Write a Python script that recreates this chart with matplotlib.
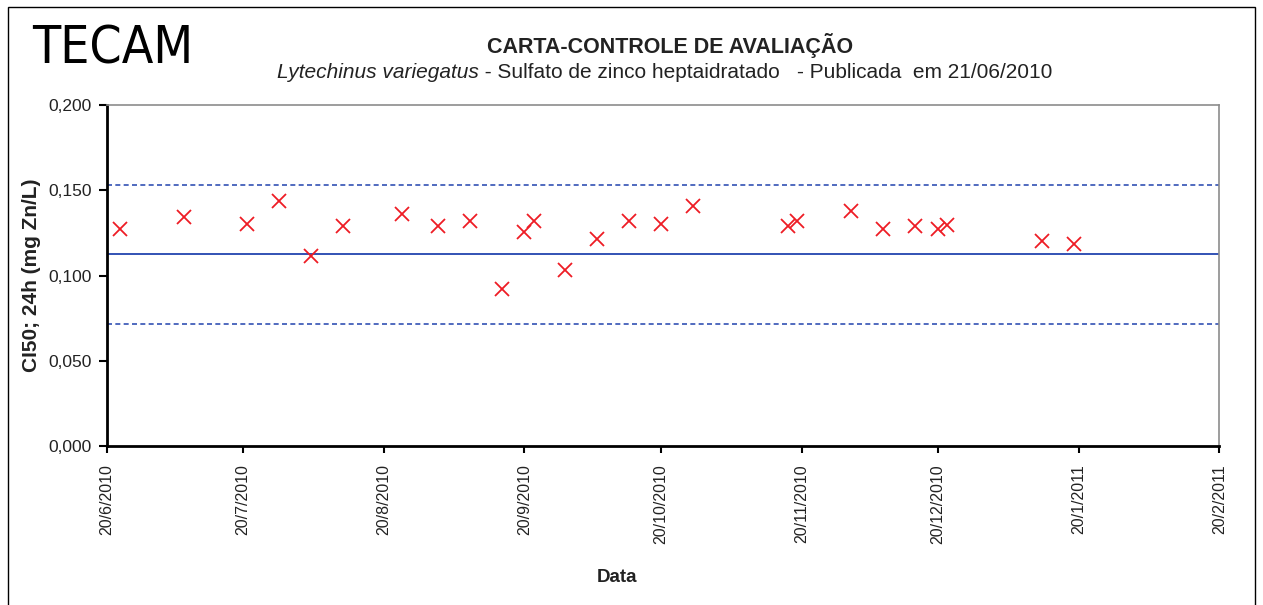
import numpy as np
import matplotlib.pyplot as plt
import matplotlib.dates as mdates
import pandas as pd
from matplotlib.offsetbox import TextArea, HPacker, AnnotationBbox
from matplotlib.ticker import FuncFormatter, FixedLocator

plt.rcParams['font.family'] = ['Liberation Sans', 'DejaVu Sans']

# ensaios (data, CI50 em mg Zn/L)
datas = ['2010-06-23', '2010-07-07', '2010-07-21', '2010-07-28', '2010-08-04',
         '2010-08-11', '2010-08-24', '2010-09-01', '2010-09-08', '2010-09-15',
         '2010-09-20', '2010-09-22', '2010-09-29', '2010-10-06', '2010-10-13',
         '2010-10-20', '2010-10-27', '2010-11-17', '2010-11-19', '2010-12-01',
         '2010-12-08', '2010-12-15', '2010-12-20', '2010-12-22', '2011-01-12',
         '2011-01-19']
ci50 = [0.1273, 0.1341, 0.1302, 0.1435, 0.1114, 0.1292, 0.1359, 0.1292, 0.1321,
        0.0919, 0.1255, 0.1321, 0.1030, 0.1216, 0.1321, 0.1302, 0.1406, 0.1292,
        0.1321, 0.1378, 0.1270, 0.1290, 0.1270, 0.1297, 0.1204, 0.1187]

media = 0.1125
lim_sup = 0.1532
lim_inf = 0.0716

tick_datas = ['2010-06-20', '2010-07-20', '2010-08-20', '2010-09-20', '2010-10-20',
              '2010-11-20', '2010-12-20', '2011-01-20', '2011-02-20']

x = mdates.date2num(pd.to_datetime(datas))
xt = mdates.date2num(pd.to_datetime(tick_datas))

W, H = 1263, 605
fig = plt.figure(figsize=(W / 100, H / 100), dpi=100)
ax = fig.add_axes([106.7 / W, 1 - 446 / H, (1219.3 - 106.7) / W, (446 - 105) / H])

# moldura externa
fig.patches.append(plt.Rectangle((8 / W, -0.01), (1255 - 8) / W, 1 - 7 / H + 0.01,
                                 transform=fig.transFigure, fill=False,
                                 edgecolor='black', linewidth=1.0))

azul = '#3252b4'
ax.axhline(media, color=azul, lw=1.4, zorder=2)
ax.axhline(lim_sup, color=azul, lw=1.2, ls=(0, (3, 2)), zorder=2)
ax.axhline(lim_inf, color=azul, lw=1.2, ls=(0, (3, 2)), zorder=2)
ax.plot(x, ci50, 'x', color='#ee1c25', markersize=10, markeredgewidth=1.3, zorder=3)

ax.set_xlim(xt[0], xt[-1])
ax.set_ylim(0, 0.2)
ax.set_yticks(np.arange(0, 0.201, 0.05))
ax.yaxis.set_major_formatter(FuncFormatter(lambda v, p: f'{v:.3f}'.replace('.', ',')))
ax.xaxis.set_major_locator(FixedLocator(xt))
ax.set_xticklabels([f'{d.day}/{d.month}/{d.year}' for d in pd.to_datetime(tick_datas)],
                   rotation=90, fontsize=11.5, color='#222222')
ax.tick_params(axis='y', labelsize=12.5, labelcolor='#222222', direction='out',
               length=6, width=1.5, pad=5)
ax.tick_params(axis='x', direction='out', length=5, width=1.5, pad=8)

for s in ['left', 'bottom']:
    ax.spines[s].set_linewidth(2)
    ax.spines[s].set_color('black')
for s in ['top', 'right']:
    ax.spines[s].set_linewidth(1.2)
    ax.spines[s].set_color('#8c8c8c')

fig.text(32 / W, 1 - 275 / H, 'CI50; 24h (mg Zn/L)', rotation=90, fontsize=15,
         fontweight='bold', ha='center', va='center', color='#222222')
fig.text(617 / W, 1 - 578 / H, 'Data', fontsize=13.5, fontweight='bold',
         ha='center', va='center', color='#222222')

fig.text(670 / W, 1 - 46 / H, 'CARTA-CONTROLE DE AVALIAÇÃO', fontsize=15.5,
         fontweight='bold', ha='center', va='center', color='#222222')
sub = HPacker(children=[
    TextArea('Lytechinus variegatus', textprops=dict(fontsize=15, style='italic', color='#222222')),
    TextArea(' - Sulfato de zinco heptaidratado   - Publicada  em 21/06/2010',
             textprops=dict(fontsize=15, color='#222222'))], pad=0, sep=0, align='baseline')
ab = AnnotationBbox(sub, (665 / W, 1 - 73 / H), xycoords='figure fraction',
                    frameon=False, box_alignment=(0.5, 0.5))
fig.add_artist(ab)

fig.text(113 / W, 1 - 50 / H, 'TECAM', fontsize=37, ha='center', va='center',
         family=['DejaVu Sans'], fontstretch='condensed', color='black')

fig.savefig('out.png', dpi=100)
